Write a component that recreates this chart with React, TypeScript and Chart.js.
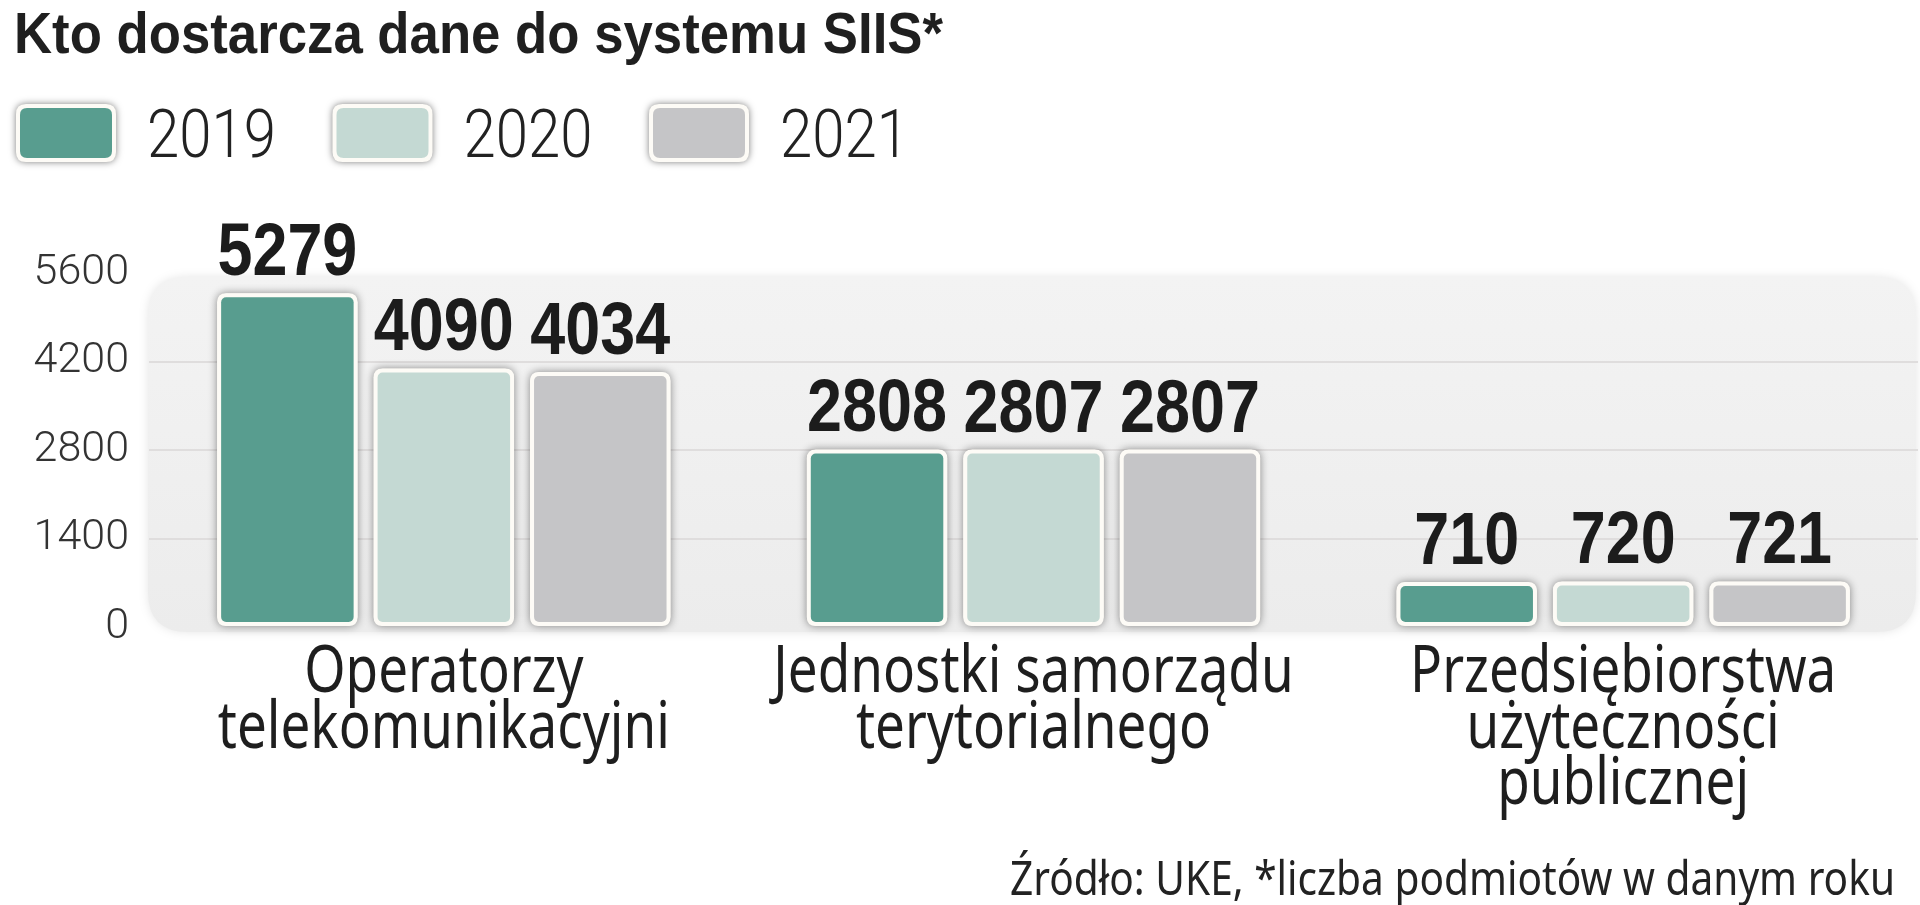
import React, { useEffect, useRef } from 'react';
import { Chart, registerables } from 'chart.js';

Chart.register(...registerables);

const titleText = 'Kto dostarcza dane do systemu SIIS*';
const footerText = 'Źródło: UKE, *liczba podmiotów w danym roku';
const categories: string[][] = [
  ['Operatorzy', 'telekomunikacyjni'],
  ['Jednostki samorządu', 'terytorialnego'],
  ['Przedsiębiorstwa', 'użyteczności', 'publicznej'],
];
const seriesLabels = ['2019', '2020', '2021'];
const values2019 = [5279, 2808, 710];
const values2020 = [4090, 2807, 720];
const values2021 = [4034, 2807, 721];
const seriesColors = ['#589d8f', '#c4d9d3', '#c5c5c7'];
const yTickValues = [0, 1400, 2800, 4200, 5600];

const SANS = '"Liberation Sans", Arial, sans-serif';
const HUMAN = '"Noto Sans", "Open Sans", sans-serif';
const LIGHT = 'Roboto, "Open Sans", sans-serif';

function roundRect(ctx: CanvasRenderingContext2D, x: number, y: number, w: number, h: number, r: number) {
  ctx.beginPath();
  ctx.moveTo(x + r, y);
  ctx.lineTo(x + w - r, y);
  ctx.quadraticCurveTo(x + w, y, x + w, y + r);
  ctx.lineTo(x + w, y + h - r);
  ctx.quadraticCurveTo(x + w, y + h, x + w - r, y + h);
  ctx.lineTo(x + r, y + h);
  ctx.quadraticCurveTo(x, y + h, x, y + h - r);
  ctx.lineTo(x, y + r);
  ctx.quadraticCurveTo(x, y, x + r, y);
  ctx.closePath();
}

function scaledText(
  ctx: CanvasRenderingContext2D,
  text: string,
  x: number,
  y: number,
  font: string,
  sx: number,
  align: CanvasTextAlign,
  color: string
) {
  ctx.save();
  ctx.font = font;
  ctx.fillStyle = color;
  ctx.textAlign = align;
  ctx.textBaseline = 'alphabetic';
  ctx.translate(x, y);
  ctx.scale(sx, 1);
  ctx.fillText(text, 0, 0);
  ctx.restore();
}

function fitScale(ctx: CanvasRenderingContext2D, text: string, font: string, target: number) {
  ctx.save();
  ctx.font = font;
  const w = ctx.measureText(text).width;
  ctx.restore();
  return w > 0 ? target / w : 1;
}

const decorPlugin = {
  id: 'decor',
  beforeDraw(chart: any) {
    const ctx = chart.ctx as CanvasRenderingContext2D;
    const ca = chart.chartArea;
    ctx.save();
    ctx.fillStyle = '#ffffff';
    ctx.fillRect(0, 0, chart.width, chart.height);
    const x = ca.left - 1;
    const y = ca.top + 4;
    const w = ca.right - x - 2;
    const h = ca.bottom + 5 - y;
    ctx.shadowColor = 'rgba(0,0,0,0.10)';
    ctx.shadowBlur = 10;
    const g = ctx.createLinearGradient(0, y, 0, y + h);
    g.addColorStop(0, '#f3f3f3');
    g.addColorStop(1, '#ececec');
    ctx.fillStyle = g;
    roundRect(ctx, x, y, w, h, 40);
    ctx.fill();
    ctx.restore();
  },
  beforeDatasetsDraw(chart: any) {
    const ctx = chart.ctx as CanvasRenderingContext2D;
    ctx.save();
    ctx.shadowColor = 'rgba(0,0,0,0.45)';
    ctx.shadowBlur = 8;
    ctx.fillStyle = '#fdfbf6';
    chart.data.datasets.forEach((_: any, di: number) => {
      const meta = chart.getDatasetMeta(di);
      meta.data.forEach((bar: any) => {
        const p = bar.getProps(['x', 'y', 'base', 'width'], true);
        roundRect(ctx, p.x - p.width / 2, p.y, p.width, p.base - p.y, 9);
        ctx.fill();
      });
    });
    ctx.restore();
  },
  afterDatasetsDraw(chart: any) {
    const ctx = chart.ctx as CanvasRenderingContext2D;
    chart.data.datasets.forEach((ds: any, di: number) => {
      const meta = chart.getDatasetMeta(di);
      meta.data.forEach((bar: any, i: number) => {
        const p = bar.getProps(['x', 'y'], true);
        scaledText(ctx, String(ds.data[i]), p.x, p.y - 18, `bold 74px ${SANS}`, 0.85, 'center', '#1c1c1c');
      });
    });
  },
  afterDraw(chart: any) {
    const ctx = chart.ctx as CanvasRenderingContext2D;
    const ca = chart.chartArea;
    // title
    const tFont = `bold 58px ${SANS}`;
    scaledText(ctx, titleText, 14, 53, tFont, fitScale(ctx, titleText, tFont, 929), 'left', '#1f1f1f');
    // legend
    chart.data.datasets.forEach((ds: any, i: number) => {
      const bx = 16 + i * 316.5;
      const by = 104;
      ctx.save();
      ctx.shadowColor = 'rgba(0,0,0,0.5)';
      ctx.shadowBlur = 7;
      ctx.fillStyle = '#fdfbf6';
      roundRect(ctx, bx, by, 100, 58, 10);
      ctx.fill();
      ctx.restore();
      ctx.save();
      ctx.fillStyle = ds.backgroundColor;
      roundRect(ctx, bx + 4, by + 4, 92, 50, 7);
      ctx.fill();
      ctx.restore();
      scaledText(ctx, ds.label, bx + 131, 157, `300 66px ${LIGHT}`, 0.88, 'left', '#222222');
    });
    // category labels, placed by the x scale
    const xs = chart.scales.x;
    const cFont = `66px ${HUMAN}`;
    const cScale = fitScale(ctx, 'telekomunikacyjni', cFont, 452);
    (chart.data.labels as string[][]).forEach((lines, i) => {
      const px = xs.getPixelForValue(i);
      lines.forEach((line, li) => {
        scaledText(ctx, line, px, ca.bottom + 65 + li * 56, cFont, cScale, 'center', '#1e1e1e');
      });
    });
    // footer
    const fFont = `47px ${HUMAN}`;
    scaledText(ctx, footerText, 1895, 895, fFont, fitScale(ctx, footerText, fFont, 885), 'right', '#222222');
  },
};

export default function App() {
  const canvasRef = useRef<HTMLCanvasElement | null>(null);

  useEffect(() => {
    if (!canvasRef.current) return;
    const chart = new Chart(canvasRef.current, {
      type: 'bar',
      data: {
        labels: categories,
        datasets: [
          { label: seriesLabels[0], data: values2019, backgroundColor: seriesColors[0] },
          { label: seriesLabels[1], data: values2020, backgroundColor: seriesColors[1] },
          { label: seriesLabels[2], data: values2021, backgroundColor: seriesColors[2] },
        ].map((d) => ({
          ...d,
          borderColor: '#fdfbf6',
          borderWidth: 4,
          borderRadius: 9,
          borderSkipped: false,
          categoryPercentage: 0.796,
          barPercentage: 0.898,
        })),
      },
      options: {
        responsive: false,
        animation: false,
        devicePixelRatio: 1,
        layout: { padding: { top: 273, right: 2, left: 0, bottom: 0 } },
        plugins: {
          legend: { display: false },
          title: { display: false },
          tooltip: { enabled: false },
        },
        scales: {
          x: {
            grid: { display: false, drawTicks: false },
            border: { display: false },
            ticks: { display: false },
            afterFit: (s: any) => {
              s.height = 278;
            },
          },
          y: {
            min: 0,
            max: 5600,
            border: { display: false },
            grid: {
              drawTicks: false,
              lineWidth: 2,
              color: (c: any) =>
                c.tick && (c.tick.value === 0 || c.tick.value === 5600) ? 'rgba(0,0,0,0)' : '#dfdddd',
            },
            afterBuildTicks: (s: any) => {
              s.ticks = yTickValues.map((v) => ({ value: v }));
            },
            ticks: {
              color: '#333333',
              padding: 20,
              font: { family: LIGHT, size: 43, weight: '300' as any },
              callback: (v: any) => String(v),
            },
            afterFit: (s: any) => {
              s.width = 149;
            },
          },
        },
      },
      plugins: [decorPlugin],
    });
    return () => chart.destroy();
  }, []);

  return (
    <div style={{ position: 'fixed', left: 0, top: 0, width: 1920, height: 905, background: '#fff' }}>
      <canvas ref={canvasRef} width={1920} height={905} style={{ width: 1920, height: 905, display: 'block' }} />
    </div>
  );
}
